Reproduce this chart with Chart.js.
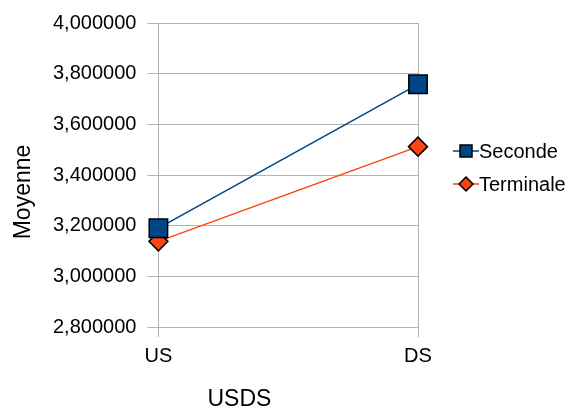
<!DOCTYPE html>
<html lang="fr">
<head>
  <meta charset="UTF-8">
  <title>Moyenne USDS</title>
  <script src="https://cdn.jsdelivr.net/npm/chart.js"></script>
  <style>
    body { margin: 0; background: #fff; }
    #box { width: 575px; height: 409px; }
  </style>
</head>
<body>
  <div id="box"><canvas id="moy"></canvas></div>

  <script>
    // data
    const categories = ['US', 'DS'];
    const seconde = [3.19, 3.758];
    const terminale = [3.138, 3.512];
    const seriesNames = ['Seconde', 'Terminale'];
    const xTitle = 'USDS';
    const yTitle = 'Moyenne';

    const FONT = '"Liberation Sans", Arial, sans-serif';
    const grid = '#b3b3b3';

    // axis titles + legend with line through marker (like the office chart)
    const extras = {
      id: 'extras',
      afterDraw(chart) {
        const c = chart.ctx, a = chart.chartArea;
        c.save();
        c.fillStyle = '#000';
        c.font = '23px ' + FONT;
        c.textAlign = 'center';
        c.textBaseline = 'middle';
        c.fillText(xTitle, a.left + 81, a.bottom + 73);
        c.translate(24, a.top + 169);
        c.rotate(-Math.PI / 2);
        c.fillText(yTitle, 0, 0);
        c.restore();

        chart.data.datasets.forEach((ds, i) => {
          const y = a.top + 128 + i * 33;
          const x0 = a.right + 35;
          c.save();
          c.strokeStyle = ds.borderColor;
          c.lineWidth = 1.5;
          c.beginPath();
          c.moveTo(x0, y);
          c.lineTo(x0 + 26, y);
          c.stroke();
          c.fillStyle = ds.pointBackgroundColor;
          c.strokeStyle = '#000';
          c.lineWidth = 1.5;
          Chart.helpers.drawPoint(c, {
            pointStyle: ds.pointStyle,
            radius: ds.pointStyle === 'rect' ? 8.5 : 7,
            borderWidth: 1.5
          }, x0 + 13, y);
          c.fillStyle = '#000';
          c.font = '20px ' + FONT;
          c.textAlign = 'left';
          c.textBaseline = 'middle';
          c.fillText(ds.label, x0 + 26, y + 1);
          c.restore();
        });
      }
    };

    new Chart(document.getElementById('moy'), {
      type: 'line',
      data: {
        labels: categories,
        datasets: [{
          label: seriesNames[0],
          data: seconde,
          borderColor: '#004586',
          borderWidth: 1.5,
          pointStyle: 'rect',
          pointRadius: 13,
          pointBackgroundColor: '#004586',
          pointBorderColor: '#000',
          pointBorderWidth: 1.5
        }, {
          label: seriesNames[1],
          data: terminale,
          borderColor: '#ff420e',
          borderWidth: 1.5,
          pointStyle: 'rectRot',
          pointRadius: 9.5,
          pointBackgroundColor: '#ff420e',
          pointBorderColor: '#000',
          pointBorderWidth: 1.5
        }]
      },
      options: {
        responsive: true,
        maintainAspectRatio: false,
        animation: false,
        layout: { padding: { top: 20, right: 157, bottom: 34, left: 42 } },
        plugins: {
          legend: { display: false },
          tooltip: { enabled: false }
        },
        scales: {
          x: {
            offset: false,
            grid: { color: grid, lineWidth: 1, tickLength: 10 },
            border: { color: grid },
            ticks: { color: '#000', font: { family: FONT, size: 20 }, padding: 7 }
          },
          y: {
            min: 2.8,
            max: 4.0,
            grid: { color: grid, lineWidth: 1, tickLength: 11 },
            border: { color: grid },
            ticks: {
              stepSize: 0.2,
              color: '#000',
              font: { family: FONT, size: 20 },
              padding: 11,
              callback: v => v.toFixed(6).replace('.', ',')
            }
          }
        }
      },
      plugins: [extras]
    });
  </script>
</body>
</html>
